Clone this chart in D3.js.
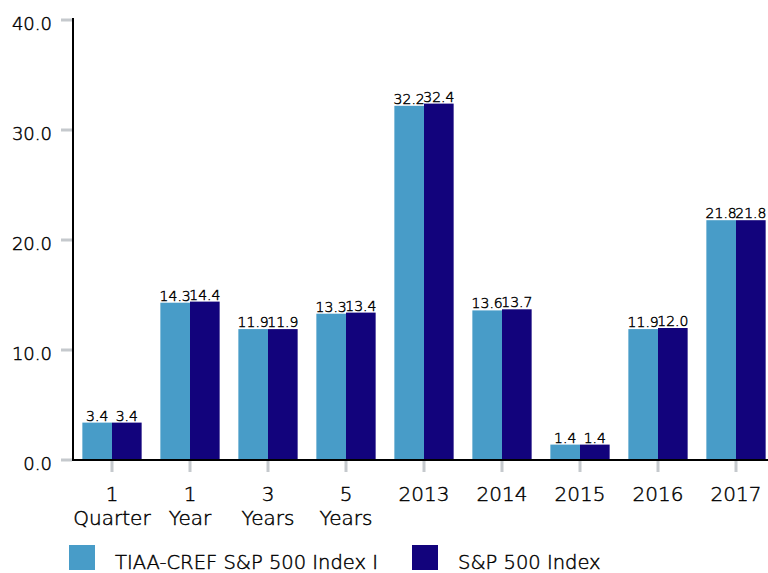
<!DOCTYPE html>
<html><head><meta charset="utf-8">
<script src="https://cdn.jsdelivr.net/npm/d3@7"></script>
<style>html,body{margin:0;padding:0;background:#fff;}svg{display:block;font-family:"DejaVu Sans",sans-serif;font-weight:200;}svg text{stroke:#000;stroke-width:0.45px;}</style>
</head><body>
<svg id="c" width="768" height="573"></svg>
<script>
const categories = [["1","Quarter"],["1","Year"],["3","Years"],["5","Years"],["2013"],["2014"],["2015"],["2016"],["2017"]];
const seriesNames = ["TIAA-CREF S&P 500 Index I","S&P 500 Index"];
const fundValues = [3.4,14.3,11.9,13.3,32.2,13.6,1.4,11.9,21.8];
const indexValues = [3.4,14.4,11.9,13.4,32.4,13.7,1.4,12.0,21.8];
const yTicks = [0,10,20,30,40];
const colors = ["#489cc8","#12037c"];

const svg = d3.select("#c");
const x0 = d3.scaleBand().domain(d3.range(categories.length)).range([73, 775]).paddingInner(0.24).paddingOuter(0.12);
const x1 = d3.scaleBand().domain([0,1]).range([0, x0.bandwidth()]);
const y = d3.scaleLinear().domain([0,40]).range([460,20]);

// y ticks
const yg = svg.append("g");
yTicks.forEach(t=>{
  yg.append("line").attr("x1",61).attr("x2",72).attr("y1",y(t)).attr("y2",y(t)).attr("stroke","#c5c9cd").attr("stroke-width",3);
  yg.append("text").attr("x",52).attr("y",y(t)+10).attr("text-anchor","end").attr("font-size",18).attr("fill","#000").text(d3.format(".1f")(t));
});

// bars
const series = [fundValues, indexValues];
categories.forEach((c,i)=>{
  series.forEach((vals,s)=>{
    const v = vals[i];
    const bx = x0(i)+x1(s);
    svg.append("rect").attr("x",bx).attr("y",y(v)).attr("width",x1.bandwidth()).attr("height",y(0)-y(v)).attr("fill",colors[s]);
    svg.append("text").attr("x",bx+x1.bandwidth()/2).attr("y",y(v)-2).attr("text-anchor","middle").attr("font-size",14).attr("fill","#000").text(d3.format(".1f")(v));
  });
  const cx = x0(i)+x0.bandwidth()/2;
  svg.append("line").attr("x1",cx).attr("x2",cx).attr("y1",461).attr("y2",472).attr("stroke","#c5c9cd").attr("stroke-width",3);
  c.forEach((l,k)=>{
    svg.append("text").attr("x",cx).attr("y",501+k*24).attr("text-anchor","middle").attr("font-size",20).attr("fill","#000").text(l);
  });
});

// axes lines
svg.append("line").attr("x1",73).attr("x2",768).attr("y1",460).attr("y2",460).attr("stroke","#000").attr("stroke-width",2);
svg.append("line").attr("x1",73).attr("x2",73).attr("y1",18).attr("y2",461).attr("stroke","#000").attr("stroke-width",2);

// legend
const legX = [69, 412];
seriesNames.forEach((n,s)=>{
  svg.append("rect").attr("x",legX[s]).attr("y",545).attr("width",26).attr("height",25).attr("fill",colors[s]);
  svg.append("text").attr("x",legX[s]+46).attr("y",569).attr("font-size",19.5).attr("fill","#000").text(n);
});
</script>
</body></html>
